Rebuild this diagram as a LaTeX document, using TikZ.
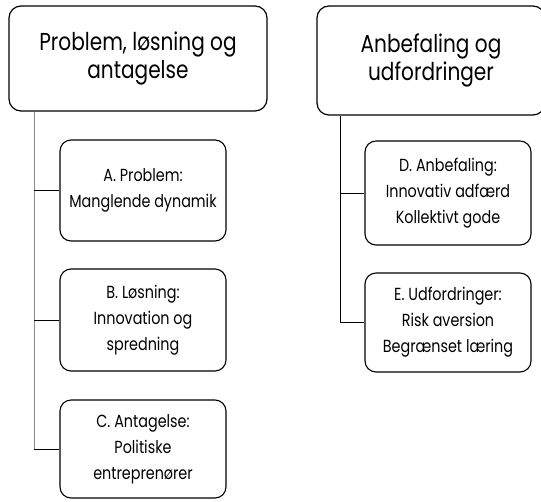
\documentclass[tikz,border=0pt]{standalone}
\usepackage{fontspec}
\setmainfont{Poppins}[FakeStretch=0.82]
\begin{document}
\begin{tikzpicture}[x=1pt,y=-1pt,
  headbox/.style={draw, line width=1.2pt, rounded corners=12pt, align=center, inner sep=0pt, font=\fontsize{24.5}{28}\selectfont},
  itembox/.style={draw, line width=1.1pt, rounded corners=11pt, align=center, inner sep=0pt, minimum width=166pt, font=\fontsize{17.5}{26}\selectfont},
  trunk/.style={draw=black!45, line width=1.4pt},
  branch/.style={draw=black, line width=1pt}]
\useasboundingbox (0,0) rectangle (541,501);
% left column
\node[headbox, minimum width=258pt, minimum height=105pt] (prob) at (138,58.5) {Problem, løsning og\\antagelse};
\node[itembox, minimum height=101pt] (A) at (143,190.5) {A. Problem:\\Manglende dynamik};
\node[itembox, minimum height=102pt] (B) at (143,320) {B. Løsning:\\Innovation og\\spredning};
\node[itembox, minimum height=98pt] (C) at (143,449) {C. Antagelse:\\Politiske\\entreprenører};
% right column
\node[headbox, minimum width=228pt, minimum height=109pt] (anbef) at (431,60.5) {Anbefaling og\\udfordringer};
\node[itembox, minimum height=104pt] (D) at (448,193) {D. Anbefaling:\\Innovativ adfærd\\Kollektivt gode};
\node[itembox, minimum height=99pt] (E) at (448,322.5) {E. Udfordringer:\\Risk aversion\\Begrænset læring};
% connectors
\coordinate (lroot) at ([xshift=26pt]prob.south west);
\coordinate (rroot) at ([xshift=24pt]anbef.south west);
\draw[trunk] (lroot) -- (lroot |- C.west);
\foreach \b in {A,B,C} \draw[branch] (lroot |- \b.west) -- (\b.west);
\draw[branch, line width=0.8pt] (rroot) |- (E.west);
\draw[branch] (rroot |- D.west) -- (D.west);
\end{tikzpicture}
\end{document}
